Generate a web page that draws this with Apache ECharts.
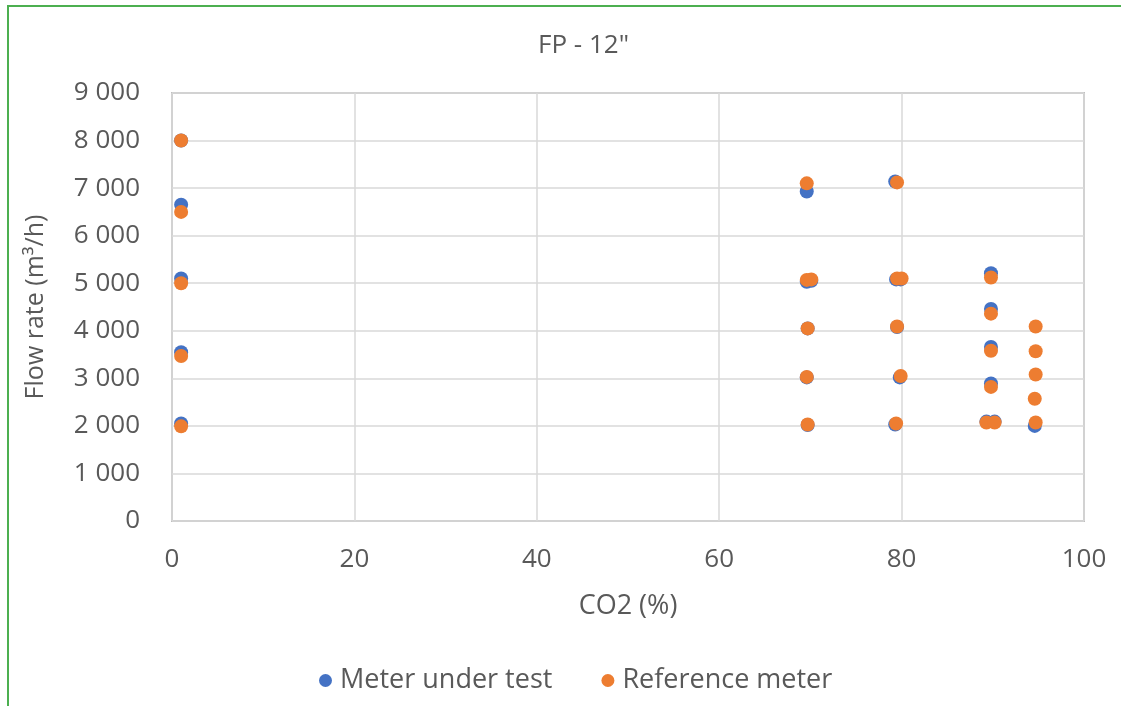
<!DOCTYPE html>
<html>
<head>
<meta charset="utf-8">
<script src="https://cdn.jsdelivr.net/npm/echarts@6/dist/echarts.min.js"></script>
<style>
  html, body { margin: 0; padding: 0; background: #ffffff; overflow: hidden; }
  #frame { position: absolute; left: 7px; top: 5px; width: 1140px; height: 730px;
           border-left: 2px solid #4caf50; border-top: 2px solid #4caf50; }
  #chart { position: absolute; left: 0; top: 0; width: 1121px; height: 706px; }
</style>
</head>
<body>
<div id="frame"></div>
<div id="chart"></div>
<script>
const titleText = 'FP - 12"';
const xAxisName = 'CO2 (%)';
const yAxisName = 'Flow rate (m³/h)';
const seriesNames = ['Meter under test', 'Reference meter'];

// Meter under test
const mutX = [1, 1, 1, 1, 1,
  69.6, 69.6, 70.1, 69.7, 69.6, 69.7,
  79.3, 79.4, 79.9, 79.5, 79.8, 79.3,
  89.8, 89.8, 89.8, 89.8, 89.3, 90.2,
  94.6];
const mutY = [8000, 6650, 5100, 3550, 2050,
  6930, 5030, 5050, 4050, 3020, 2020,
  7140, 5080, 5080, 4080, 3020, 2030,
  5210, 4460, 3660, 2890, 2090, 2090,
  2000];

// Reference meter
const refX = [1, 1, 1, 1, 1,
  69.6, 69.6, 70.1, 69.7, 69.6, 69.7,
  79.5, 79.5, 80.0, 79.5, 79.9, 79.4,
  89.8, 89.8, 89.8, 89.8, 89.3, 90.2,
  94.7, 94.7, 94.7, 94.6, 94.7];
const refY = [8000, 6500, 5000, 3470, 1990,
  7100, 5070, 5080, 4050, 3030, 2030,
  7120, 5100, 5100, 4090, 3050, 2050,
  5120, 4360, 3580, 2820, 2070, 2070,
  4090, 3570, 3080, 2570, 2070];

const xTicks = [0, 20, 40, 60, 80, 100];
const yTicks = [0, 1000, 2000, 3000, 4000, 5000, 6000, 7000, 8000, 9000];

const FONT = '"Open Sans", sans-serif';
const TXT = '#595959';

function pairs(xs, ys) { return xs.map((x, i) => [x, ys[i]]); }
function fmt(v) { return String(v).replace(/\B(?=(\d{3})+(?!\d))/g, ' '); }

const chart = echarts.init(document.getElementById('chart'), null, { renderer: 'canvas' });
chart.setOption({
  backgroundColor: 'transparent',
  animation: false,
  title: {
    text: titleText, left: 533, top: 28,
    textStyle: { fontFamily: FONT, fontSize: 26, fontWeight: 'normal', color: TXT }
  },
  legend: {
    bottom: 7, left: 314, itemGap: 49,
    icon: 'circle', itemWidth: 13, itemHeight: 13,
    textStyle: { fontFamily: FONT, fontSize: 27, color: TXT, padding: [0, 0, 0, 3] },
    data: seriesNames
  },
  grid: {
    left: 172, right: 37, top: 93, bottom: 185,
    show: true, borderColor: '#bfbfbf', borderWidth: 2, containLabel: false
  },
  xAxis: {
    type: 'value', min: xTicks[0], max: xTicks[xTicks.length - 1], interval: 20,
    name: xAxisName, nameLocation: 'middle', nameGap: 72,
    nameTextStyle: { fontFamily: FONT, fontSize: 27, color: TXT },
    axisLine: { show: false }, axisTick: { show: false },
    axisLabel: { fontFamily: FONT, fontSize: 26, color: TXT, margin: 26 },
    splitLine: { show: true, lineStyle: { color: '#d9d9d9', width: 1.5 } }
  },
  yAxis: {
    type: 'value', min: yTicks[0], max: yTicks[yTicks.length - 1], interval: 1000,
    name: yAxisName, nameLocation: 'middle', nameGap: 124, nameRotate: 90,
    nameTextStyle: { fontFamily: FONT, fontSize: 25, color: TXT },
    axisLine: { show: false }, axisTick: { show: false },
    axisLabel: { fontFamily: FONT, fontSize: 26, color: TXT, margin: 32, formatter: fmt },
    splitLine: { show: true, lineStyle: { color: '#d9d9d9', width: 1.5 } }
  },
  series: [
    { name: seriesNames[0], type: 'scatter', symbol: 'circle', symbolSize: 14,
      itemStyle: { color: '#4472c4', opacity: 1 }, data: pairs(mutX, mutY) },
    { name: seriesNames[1], type: 'scatter', symbol: 'circle', symbolSize: 14,
      itemStyle: { color: '#ed7d31', opacity: 1 }, data: pairs(refX, refY) }
  ]
});
</script>
</body>
</html>
